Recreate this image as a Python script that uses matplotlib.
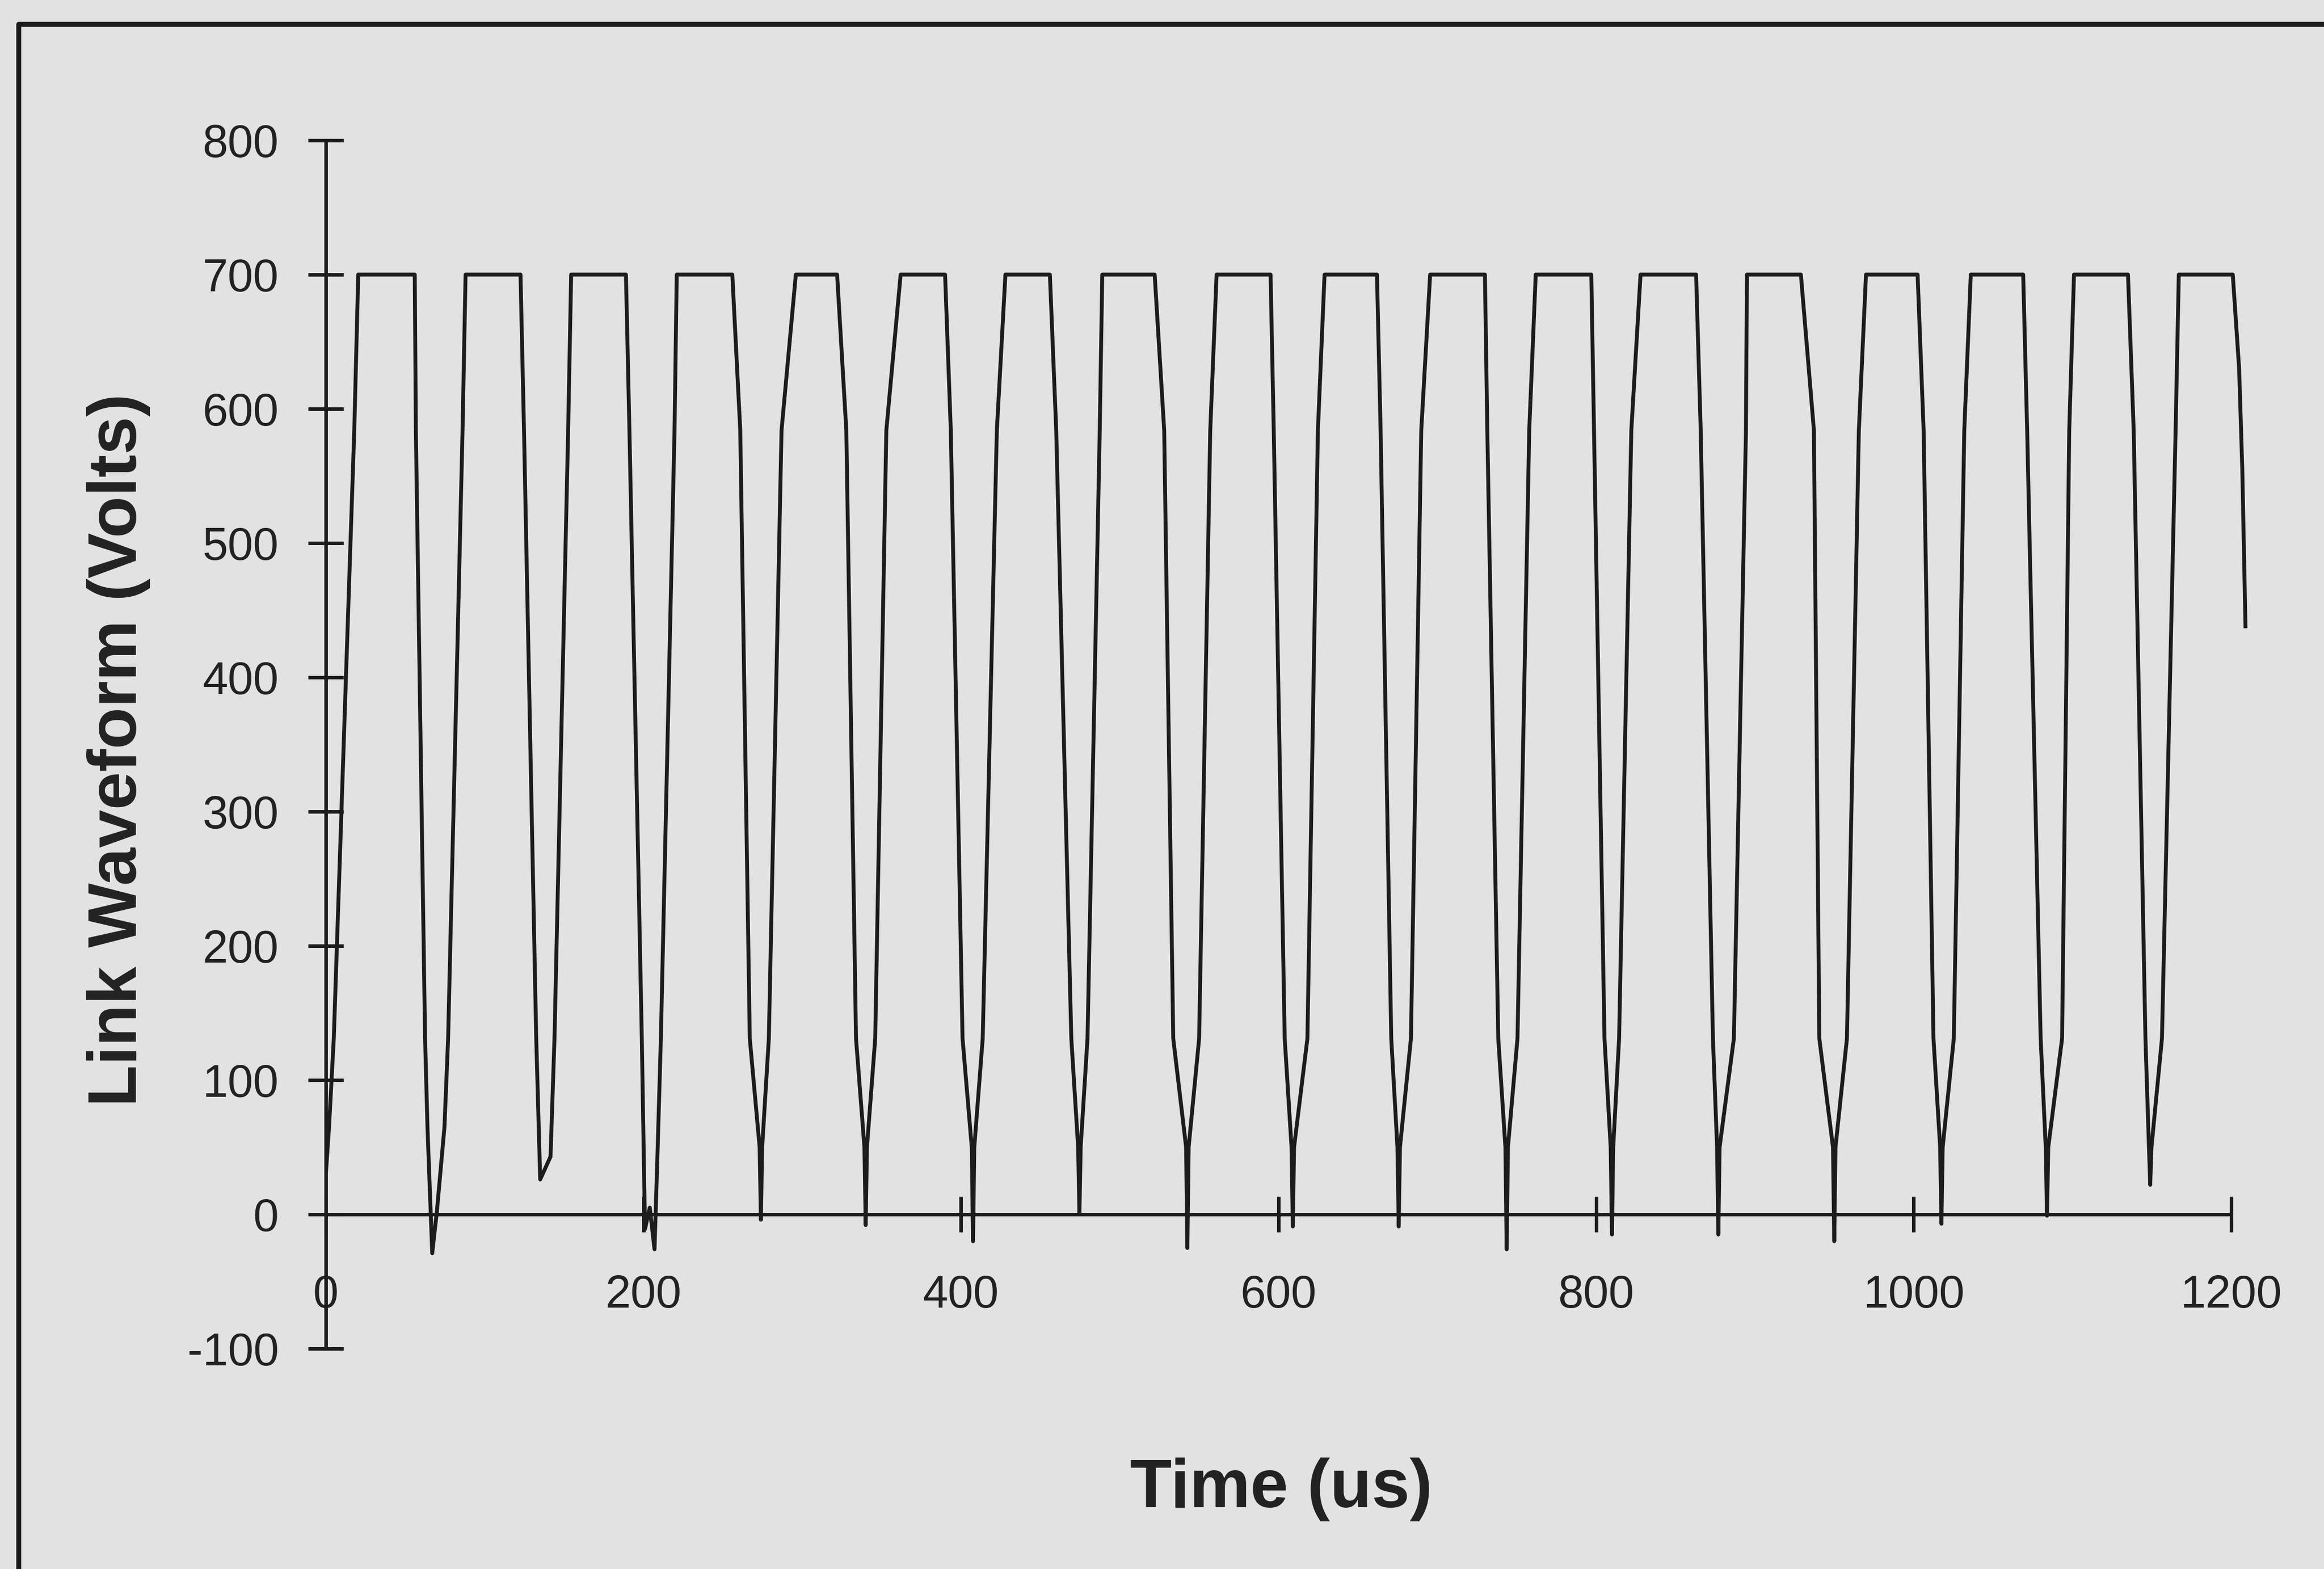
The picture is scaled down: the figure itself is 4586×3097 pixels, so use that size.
import matplotlib
matplotlib.use('Agg')
import matplotlib.pyplot as plt
from matplotlib.lines import Line2D

# Link waveform (time in us, volts)
# one row per switching cycle: top end, falling edge, trough, rising edge, next top start
time_us = [
    0, 2, 5, 17.9, 20.4,
    56, 56.7, 62.5, 64, 67, 70, 74.7, 77, 86.1, 88,
    122.6, 124.8, 132.5, 135, 141.5, 144, 152.6, 154.5,
    189, 191.2, 199, 201, 204, 207, 209, 211, 219.6, 221,
    256, 261, 267, 273.2, 274, 274.8, 279, 287, 296,
    322, 327.8, 333.9, 339.2, 340, 340.8, 346, 353, 362,
    390, 393.6, 401, 406.8, 407.6, 408.4, 413.7, 422.6, 428,
    456, 460, 469.5, 473.8, 474.6, 475.4, 479.7, 487.4, 489,
    522, 528, 533.7, 541.8, 542.6, 543.4, 550, 557, 561,
    595, 597, 603.9, 608.2, 609, 609.8, 618.2, 624.8, 629,
    662, 664.3, 671, 674.9, 675.7, 676.5, 683.4, 689.9, 695.5,
    730, 731.5, 738.4, 742.9, 743.7, 744.5, 750.5, 757.9, 762,
    797, 798.7, 805.3, 809.2, 810, 810.8, 814.5, 822.2, 828,
    863, 865.9, 873.6, 876.2, 877, 877.8, 886.8, 894.4, 895,
    929, 937.2, 940.6, 949.2, 950, 950.8, 958, 965.5, 970,
    1002.5, 1006.3, 1012.5, 1016.7, 1017.5, 1018.3, 1025.3, 1031.9, 1036,
    1069, 1071.5, 1080, 1083.2, 1084, 1084.8, 1093.5, 1098, 1101,
    1135, 1138.6, 1146, 1148.2, 1149, 1149.8, 1156.4, 1165, 1167,
    1201, 1205, 1207, 1209,
]
link_v = [
    30, 65, 131, 584, 700,
    700, 584, 131, 65, -29, 3, 65, 131, 584, 700,
    700, 584, 131, 26, 43, 131, 584, 700,
    700, 584, 131, -11, 5, -26, 50, 131, 584, 700,
    700, 584, 131, 50, -4, 50, 131, 584, 700,
    700, 584, 131, 50, -8, 50, 131, 584, 700,
    700, 584, 131, 50, -20, 50, 131, 584, 700,
    700, 584, 131, 50, 0, 50, 131, 584, 700,
    700, 584, 131, 50, -25, 50, 131, 584, 700,
    700, 584, 131, 50, -9, 50, 131, 584, 700,
    700, 584, 131, 50, -9, 50, 131, 584, 700,
    700, 584, 131, 50, -26, 50, 131, 584, 700,
    700, 584, 131, 50, -15, 50, 131, 584, 700,
    700, 584, 131, 50, -15, 50, 131, 584, 700,
    700, 584, 131, 50, -20, 50, 131, 584, 700,
    700, 584, 131, 50, -7, 50, 131, 584, 700,
    700, 584, 131, 50, -1, 50, 131, 584, 700,
    700, 584, 131, 50, 22, 50, 131, 584, 700,
    700, 630, 555, 438,
]

x_ticks = [0, 200, 400, 600, 800, 1000, 1200]
y_ticks = [-100, 0, 100, 200, 300, 400, 500, 600, 700, 800]

bg = '#e2e2e2'
ink = '#1c1c1c'

plt.rcParams['font.family'] = ['Liberation Sans', 'DejaVu Sans']
plt.rcParams['axes.unicode_minus'] = False

fig = plt.figure(figsize=(45.86, 30.97), dpi=100, facecolor=bg)
ax = fig.add_axes([0.14021, 0.14046, 0.8301, 0.7701])
ax.set_facecolor('none')

ax.plot(time_us, link_v, color=ink, lw=5.5, solid_joinstyle='round')

ax.set_xlim(0, 1215)
ax.set_ylim(-100, 800)

for s in ['top', 'right']:
    ax.spines[s].set_visible(False)
ax.spines['bottom'].set_position(('data', 0))
ax.spines['bottom'].set_bounds(0, 1200)
ax.spines['left'].set_bounds(-100, 800)
for s in ['bottom', 'left']:
    ax.spines[s].set_linewidth(5)
    ax.spines[s].set_color(ink)

ax.set_xticks(x_ticks)
ax.set_yticks(y_ticks)
ax.tick_params(axis='both', direction='inout', length=50, width=5, colors=ink,
               labelsize=65, labelcolor='#222222')
ax.tick_params(axis='y', pad=42)
ax.tick_params(axis='x', pad=60)

fig.text(0.0510, 0.522, 'Link Waveform (Volts)', rotation=90, ha='center', va='center',
         fontsize=97, fontweight='bold', color='#222222')
fig.text(0.5513, 0.0507, 'Time (us)', ha='center', va='center',
         fontsize=97, fontweight='bold', color='#222222')

# chart frame, cut off at the right and bottom of the scan
fig.add_artist(Line2D([0.0081, 0.0081, 1.0], [0.0, 0.9845, 0.9845],
                      transform=fig.transFigure, color=ink, lw=7))

fig.savefig('out.png', dpi=100, facecolor=bg)
